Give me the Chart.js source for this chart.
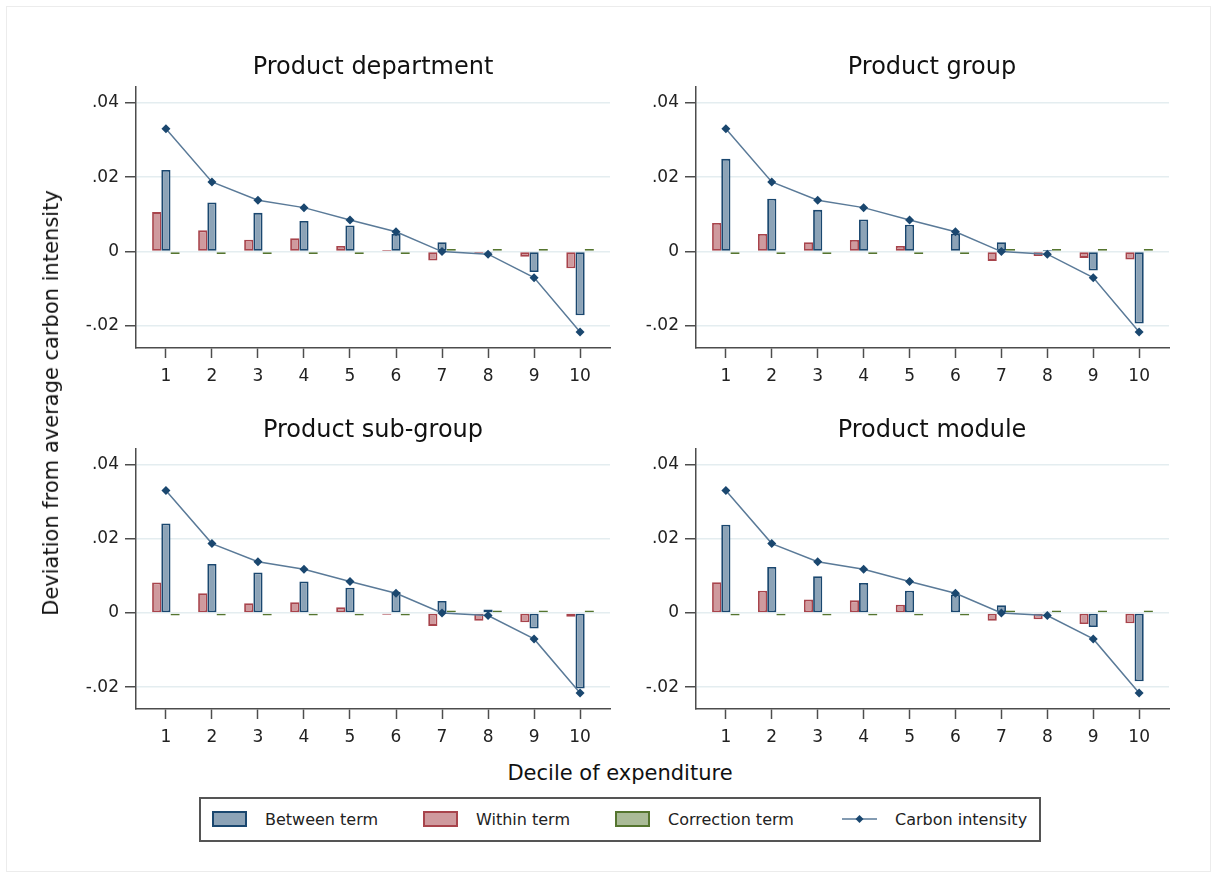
<!DOCTYPE html>
<html>
<head>
<meta charset="utf-8">
<script src="https://cdn.jsdelivr.net/npm/chart.js@4.4.1/dist/chart.umd.min.js"></script>
<style>
  body { margin: 0; background: #fff; font-family: "DejaVu Sans", sans-serif; }
  #page { position: relative; width: 1214px; height: 878px; overflow: hidden; background: #fff; }
  #frame { position: absolute; left: 6px; top: 6px; width: 1205px; height: 866px; border: 1px solid #ececec; box-sizing: border-box; }
  .panel { position: absolute; }
  .ptitle { position: absolute; transform: translate(-50%, -50%); white-space: nowrap; font-size: 24px; color: #111; }
  #ytitle { position: absolute; left: 51px; top: 403px; transform: translate(-50%, -50%) rotate(-90deg); white-space: nowrap; font-size: 21px; color: #111; }
  #xtitle { position: absolute; left: 620px; top: 773px; transform: translate(-50%, -50%); white-space: nowrap; font-size: 21px; color: #111; }
  #legend { position: absolute; left: 199px; top: 797px; width: 842px; height: 45px; border: 2px solid #555; box-sizing: border-box; }
  .sw { position: absolute; top: 12px; width: 35px; height: 16px; box-sizing: border-box; border: 2px solid; }
  .lt { position: absolute; top: 20px; transform: translateY(-50%); font-size: 16px; color: #222; white-space: nowrap; }
</style>
</head>
<body>
<div id="page">
  <div id="frame"></div>
  <div class="panel" style="left:56px; top:37px; width:566px; height:361px;"><canvas id="c1"></canvas></div>
  <div class="panel" style="left:616px; top:37px; width:565px; height:361px;"><canvas id="c2"></canvas></div>
  <div class="panel" style="left:56px; top:399px; width:566px; height:360px;"><canvas id="c3"></canvas></div>
  <div class="panel" style="left:616px; top:399px; width:565px; height:360px;"><canvas id="c4"></canvas></div>
  <div class="ptitle" style="left:373px; top:66px;">Product department</div>
  <div class="ptitle" style="left:932px; top:66px;">Product group</div>
  <div class="ptitle" style="left:373px; top:429px;">Product sub-group</div>
  <div class="ptitle" style="left:932px; top:429px;">Product module</div>
  <div id="ytitle">Deviation from average carbon intensity</div>
  <div id="xtitle">Decile of expenditure</div>
  <div id="legend">
    <div class="sw" style="left:11px; background:#8ca3b7; border-color:#1a476f;"></div>
    <div class="lt" style="left:64px;">Between term</div>
    <div class="sw" style="left:222px; background:#cf9a9e; border-color:#a8444c;"></div>
    <div class="lt" style="left:275px;">Within term</div>
    <div class="sw" style="left:414px; background:#aabb97; border-color:#55752f;"></div>
    <div class="lt" style="left:467px;">Correction term</div>
    <svg style="position:absolute; left:641px; top:13px;" width="35" height="14">
      <line x1="0" y1="7" x2="35" y2="7" stroke="#5a7a98" stroke-width="1.5"/>
      <polygon points="17.5,3 21.5,7 17.5,11 13.5,7" fill="#1a476f"/>
    </svg>
    <div class="lt" style="left:694px;">Carbon intensity</div>
  </div>
</div>
<script>
// Deciles and axis ticks
var deciles = [1, 2, 3, 4, 5, 6, 7, 8, 9, 10];
var yTicks = [-0.02, 0, 0.02, 0.04];
var Y_MIN = -0.0259;
var Y_MAX = 0.0442;

// Total deviation, same in every panel
var carbonIntensity = [0.0330, 0.0187, 0.0138, 0.0118, 0.0085, 0.0053, 0.0000, -0.0007, -0.0070, -0.0216];

// Product department
var betweenDept    = [0.0219, 0.0132, 0.0104, 0.0082, 0.0070, 0.0047, 0.0025, -0.0003, -0.0055, -0.0171];
var withinDept     = [0.0106, 0.0057, 0.0032, 0.0036, 0.0015, 0.0004, -0.0024, -0.0004, -0.0014, -0.0045];
var correctionDept = [-0.0002, -0.0002, -0.0002, -0.0002, -0.0002, -0.0002, 0.0001, 0.0001, 0.0002, 0.0002];

// Product group
var betweenGroup    = [0.0249, 0.0142, 0.0112, 0.0086, 0.0072, 0.0048, 0.0025, 0.0004, -0.0051, -0.0193];
var withinGroup     = [0.0077, 0.0047, 0.0025, 0.0031, 0.0015, -0.0002, -0.0025, -0.0012, -0.0017, -0.0021];
var correctionGroup = [-0.0002, -0.0002, -0.0002, -0.0002, -0.0002, -0.0002, 0.0001, 0.0001, 0.0002, 0.0002];

// Product sub-group
var betweenSub    = [0.0241, 0.0132, 0.0109, 0.0085, 0.0068, 0.0057, 0.0032, 0.0009, -0.0042, -0.0204];
var withinSub     = [0.0082, 0.0053, 0.0026, 0.0029, 0.0015, -0.0005, -0.0035, -0.0021, -0.0025, -0.0010];
var correctionSub = [-0.0002, -0.0002, -0.0002, -0.0002, -0.0002, -0.0002, 0.0001, 0.0001, 0.0002, 0.0002];

// Product module
var betweenModule    = [0.0238, 0.0124, 0.0099, 0.0081, 0.0060, 0.0050, 0.0021, 0.0003, -0.0038, -0.0184];
var withinModule     = [0.0083, 0.0060, 0.0036, 0.0034, 0.0022, 0.0002, -0.0021, -0.0017, -0.0030, -0.0028];
var correctionModule = [-0.0002, -0.0002, -0.0002, -0.0002, -0.0002, -0.0002, 0.0001, 0.0001, 0.0002, 0.0002];

// Styles ---------------------------------------------------------------------

var FONT = '"DejaVu Sans", sans-serif';
var AXIS_COLOR = '#4d4d4d';
var GRID_COLOR = '#e4edf0';

function toPoints(values) {
    return deciles.map(function (d, i) { return { x: d, y: values[i] }; });
}

function formatTick(v) {
    if (v === 0) return '0';
    return String(v).replace('0.', '.');
}

function barDataset(label, values, fill, border, minLength) {
    return {
        type: 'bar',
        label: label,
        data: toPoints(values),
        backgroundColor: fill,
        borderColor: border,
        borderWidth: 1.8,
        borderSkipped: false,
        minBarLength: minLength || 0,
        categoryPercentage: 0.6,
        barPercentage: 1.0,
        order: 1
    };
}

function createPanel(canvasId, between, within, correction) {
    var context = document.getElementById(canvasId).getContext('2d');

    // within / between / correction sit left to right around each tick
    var datasets = [
        barDataset('Within term', within, '#cf9a9e', '#a8444c'),
        barDataset('Between term', between, '#8ca3b7', '#1a476f'),
        barDataset('Correction term', correction, '#aabb97', '#55752f', 2.5),
        {
            type: 'line',
            label: 'Carbon intensity',
            data: toPoints(carbonIntensity),
            borderColor: '#5a7a98',
            borderWidth: 1.5,
            pointStyle: 'rectRot',
            pointRadius: 4.5,
            pointBackgroundColor: '#1a476f',
            pointBorderColor: '#1a476f',
            pointBorderWidth: 0,
            tension: 0,
            order: 0
        }
    ];

    return new Chart(context, {
        data: { datasets: datasets },
        options: {
            responsive: true,
            maintainAspectRatio: false,
            animation: false,
            layout: { padding: { left: 0, right: 12, top: 50, bottom: 0 } },
            plugins: {
                legend: { display: false },
                tooltip: { enabled: false }
            },
            scales: {
                x: {
                    type: 'linear',
                    min: 0.35,
                    max: 10.65,
                    offset: false,
                    afterBuildTicks: function (scale) {
                        scale.ticks = deciles.map(function (d) { return { value: d }; });
                    },
                    afterFit: function (scale) { scale.height = 50; },
                    grid: {
                        offset: false,
                        drawOnChartArea: false,
                        drawTicks: true,
                        tickLength: 10,
                        tickColor: AXIS_COLOR,
                        tickWidth: 1.5
                    },
                    border: { display: true, color: AXIS_COLOR, width: 1.5 },
                    ticks: {
                        color: '#222',
                        font: { family: FONT, size: 17 },
                        padding: 8,
                        maxRotation: 0,
                        callback: function (v) { return String(v); }
                    }
                },
                y: {
                    type: 'linear',
                    min: Y_MIN,
                    max: Y_MAX,
                    afterBuildTicks: function (scale) {
                        scale.ticks = yTicks.map(function (v) { return { value: v }; });
                    },
                    afterFit: function (scale) { scale.width = 80; },
                    grid: {
                        drawOnChartArea: true,
                        color: GRID_COLOR,
                        lineWidth: 1.5,
                        drawTicks: true,
                        tickLength: 11,
                        tickColor: AXIS_COLOR,
                        tickWidth: 1.5
                    },
                    border: { display: true, color: AXIS_COLOR, width: 1.5 },
                    ticks: {
                        color: '#222',
                        font: { family: FONT, size: 17 },
                        padding: 6,
                        callback: function (v) { return formatTick(v); }
                    }
                }
            }
        }
    });
}

createPanel('c1', betweenDept, withinDept, correctionDept);
createPanel('c2', betweenGroup, withinGroup, correctionGroup);
createPanel('c3', betweenSub, withinSub, correctionSub);
createPanel('c4', betweenModule, withinModule, correctionModule);
</script>
</body>
</html>
